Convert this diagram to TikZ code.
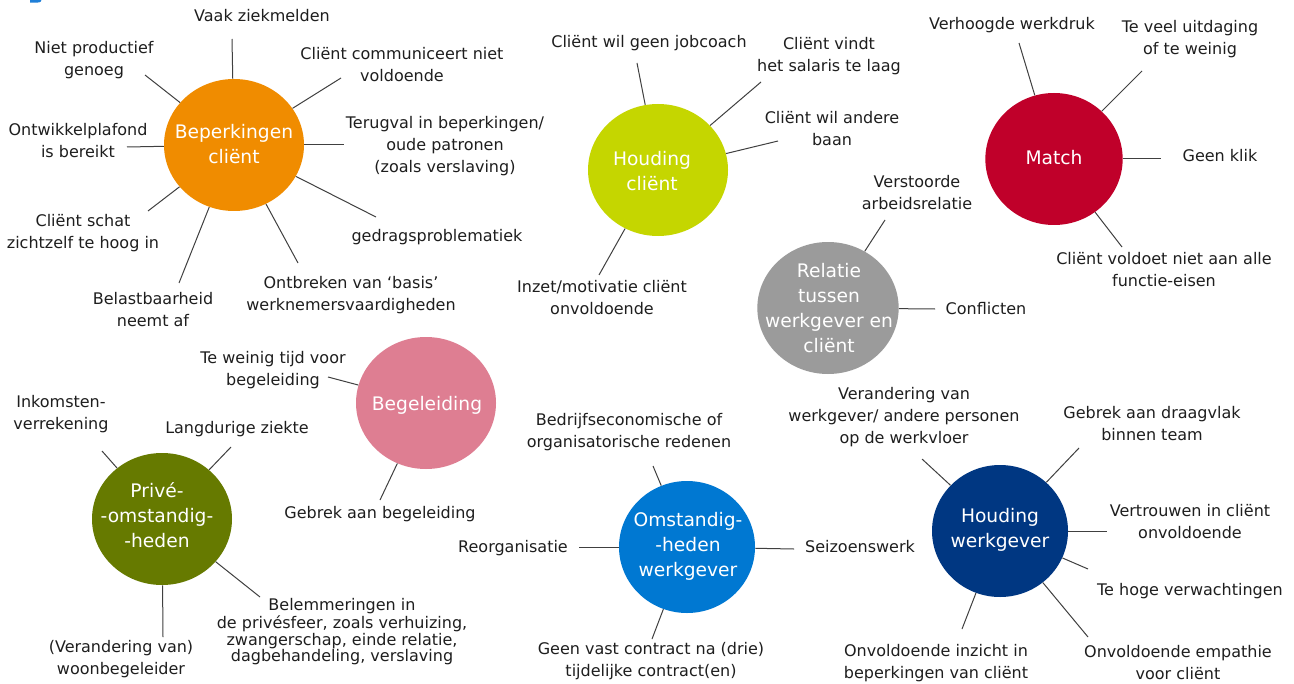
\documentclass[tikz,border=0pt]{standalone}
\usepackage{fontspec}
\setmainfont{DejaVu Sans}
\usetikzlibrary{shapes.geometric}

\definecolor{cOrange}{HTML}{F08C00}
\definecolor{cLime}{HTML}{C5D600}
\definecolor{cRed}{HTML}{C0002A}
\definecolor{cGrey}{HTML}{9B9B9B}
\definecolor{cPink}{HTML}{DE7E92}
\definecolor{cOlive}{HTML}{667A00}
\definecolor{cBlue}{HTML}{0078D2}
\definecolor{cNavy}{HTML}{003782}
\definecolor{cTitle}{HTML}{1F7FD8}
\definecolor{cInk}{HTML}{1E1E1E}
\definecolor{cLine}{HTML}{404040}

\begin{document}
\begin{tikzpicture}[x=0.75pt,y=-0.75pt,
  lbl/.style={font=\fontsize{12}{16.5}\selectfont, align=center, inner sep=0pt,
    text=cInk, yshift=-1.5pt,
    execute at begin node=\strut, execute at end node=\strut},
  tight/.style={font=\fontsize{12}{11.25}\selectfont},
  hub/.style={ellipse, inner sep=0pt, minimum width=105pt, minimum height=99pt},
  hubtext/.style={font=\fontsize{14}{18.75}\selectfont, align=center, inner sep=0pt,
    text=white, execute at begin node=\strut, execute at end node=\strut},
  spoke/.style={draw=cLine, line width=0.75pt}]

\useasboundingbox (0,0) rectangle (1294,684);
\fill[white] (0,0) rectangle (1294,684);

% fragment of the heading at the top edge
\fill[cTitle] (30,0) -- (30,2.6) -- (37,2.6) .. controls (40.5,2.6) and (41.5,1.2) .. (41.5,0) -- cycle;

% ---------- hubs ----------
\node[hub, fill=cOrange] (b) at (234,145) {};
\node[hub, fill=cLime] (h) at (658,170) {};
\node[hub, fill=cRed, minimum width=103pt] (m) at (1054,159) {};
\node[hub, fill=cGrey, minimum width=106pt] (r) at (828,308) {};
\node[hub, fill=cPink] (g) at (426,403) {};
\node[hub, fill=cOlive] (p) at (162,519) {};
\node[hub, fill=cBlue, minimum width=102pt] (o) at (687,547) {};
\node[hub, fill=cNavy, minimum width=102pt] (w) at (1000,531) {};

\node[hubtext] (bt) at (234,147.5) {Beperkingen\\cliënt};
\node[hubtext] (ht) at (652,174.5) {Houding\\cliënt};
\node[hubtext] (mt) at (1054,160) {Match};
\node[hubtext] (rt) at (829,312) {Relatie\\tussen\\werkgever en\\cliënt};
\node[hubtext] (gt) at (427,405) {Begeleiding};
\node[hubtext] (pt) at (157,519) {Privé-\\-omstandig-\\-heden};
\node[hubtext] (ot) at (688,548) {Omstandig-\\-heden\\werkgever};
\node[hubtext] (wt) at (1000,531.5) {Houding\\werkgever};

% ---------- Beperkingen client ----------
\node[lbl] (b1) at (262,15) {Vaak ziekmelden};
\node[lbl] (b2) at (94,60) {Niet productief\\genoeg};
\node[lbl] (b3) at (402,66) {Cliënt communiceert niet\\voldoende};
\node[lbl] (b4) at (78,141.5) {Ontwikkelplafond\\is bereikt};
\node[lbl] (b5) at (445,145.5) {Terugval in beperkingen/\\oude patronen\\(zoals verslaving)};
\node[lbl] (b6) at (437,235) {gedragsproblematiek};
\node[lbl] (b7) at (83,232.5) {Cliënt schat\\zichtzelf te hoog in};
\node[lbl] (b8) at (153,311) {Belastbaarheid\\neemt af};
\node[lbl] (b9) at (351,295) {Ontbreken van ‘basis’\\werknemersvaardigheden};
\coordinate (b1e) at (232,39);
\coordinate (b2e) at (145,75);
\coordinate (b3e) at (341,78);
\coordinate (b4e) at (127,147);
\coordinate (b5e) at (344,145);
\coordinate (b6e) at (376,217);
\coordinate (b7e) at (148,211);
\coordinate (b8e) at (179,283);
\coordinate (b9e) at (298,263);
\foreach \k in {1,...,9} {\draw[spoke] (b) -- (b\k e);}

% ---------- Houding client ----------
\node[lbl] (h1) at (649,41) {Cliënt wil geen jobcoach};
\node[lbl] (h2) at (829,56) {Cliënt vindt\\het salaris te laag};
\node[lbl] (h3) at (832,130) {Cliënt wil andere\\baan};
\node[lbl] (h4) at (602,299) {Inzet/motivatie cliënt\\onvoldoende};
\coordinate (h1e) at (637,63);
\coordinate (h2e) at (761,82);
\coordinate (h3e) at (778,141);
\coordinate (h4e) at (599,275);
\foreach \k in {1,...,4} {\draw[spoke] (h) -- (h\k e);}

% ---------- Match ----------
\node[lbl] (m1) at (1012,23) {Verhoogde werkdruk};
\node[lbl] (m2) at (1190,38.5) {Te veel uitdaging\\of te weinig};
\node[lbl] (m3) at (1220,155) {Geen klik};
\node[lbl] (m4) at (1164,271) {Cliënt voldoet niet aan alle\\functie-eisen};
\coordinate (m1e) at (1019,43);
\coordinate (m2e) at (1142,71);
\coordinate (m3e) at (1161,159);
\coordinate (m4e) at (1122,247);
\foreach \k in {1,...,4} {\draw[spoke] (m) -- (m\k e);}

% ---------- Relatie ----------
\node[lbl] (r1) at (917,194) {Verstoorde\\arbeidsrelatie};
\node[lbl] (r2) at (986,308) {Conflicten};
\coordinate (r1e) at (885,220);
\coordinate (r2e) at (935,309);
\foreach \k in {1,2} {\draw[spoke] (r) -- (r\k e);}

% ---------- Begeleiding ----------
\node[lbl] (g1) at (273,370) {Te weinig tijd voor\\begeleiding};
\node[lbl] (g2) at (380,512) {Gebrek aan begeleiding};
\coordinate (g1e) at (328,377);
\coordinate (g2e) at (380,500);
\foreach \k in {1,2} {\draw[spoke] (g) -- (g\k e);}

% ---------- Prive-omstandigheden ----------
\node[lbl] (p1) at (61,413.5) {Inkomsten-\\verrekening};
\node[lbl] (p2) at (237,427) {Langdurige ziekte};
\node[lbl] (p3) at (121,658.5) {(Verandering van)\\woonbegeleider};
\node[lbl, tight] (p4) at (342,630.5) {Belemmeringen in\\de privésfeer, zoals verhuizing,\\zwangerschap, einde relatie,\\dagbehandeling, verslaving};
\coordinate (p1e) at (102,451);
\coordinate (p2e) at (231,447);
\coordinate (p3e) at (163,637);
\coordinate (p4e) at (260,597);
\foreach \k in {1,...,4} {\draw[spoke] (p) -- (p\k e);}

% ---------- Omstandigheden werkgever ----------
\node[lbl] (o1) at (629,431.5) {Bedrijfseconomische of\\organisatorische redenen};
\node[lbl] (o2) at (513,546) {Reorganisatie};
\node[lbl] (o3) at (860,546) {Seizoenswerk};
\node[lbl] (o4) at (651,660.5) {Geen vast contract na (drie)\\tijdelijke contract(en)};
\coordinate (o1e) at (653,466);
\coordinate (o2e) at (579,547);
\coordinate (o3e) at (794,549);
\coordinate (o4e) at (652,639);
\foreach \k in {1,...,4} {\draw[spoke] (o) -- (o\k e);}

% ---------- Houding werkgever ----------
\node[lbl] (w1) at (904,416.5) {Verandering van\\werkgever/ andere personen\\op de werkvloer};
\node[lbl] (w2) at (1152,424.5) {Gebrek aan draagvlak\\binnen team};
\node[lbl] (w3) at (1190,522.5) {Vertrouwen in cliënt\\onvoldoende};
\node[lbl] (w4) at (1190,589) {Te hoge verwachtingen};
\node[lbl] (w5) at (1178,664) {Onvoldoende empathie\\voor cliënt};
\node[lbl] (w6) at (936,662.5) {Onvoldoende inzicht in\\beperkingen van cliënt};
\coordinate (w1e) at (922,459);
\coordinate (w2e) at (1079,448);
\coordinate (w3e) at (1107,531);
\coordinate (w4e) at (1088,569);
\coordinate (w5e) at (1088,637);
\coordinate (w6e) at (962,629);
\foreach \k in {1,...,6} {\draw[spoke] (w) -- (w\k e);}

\end{tikzpicture}
\end{document}
